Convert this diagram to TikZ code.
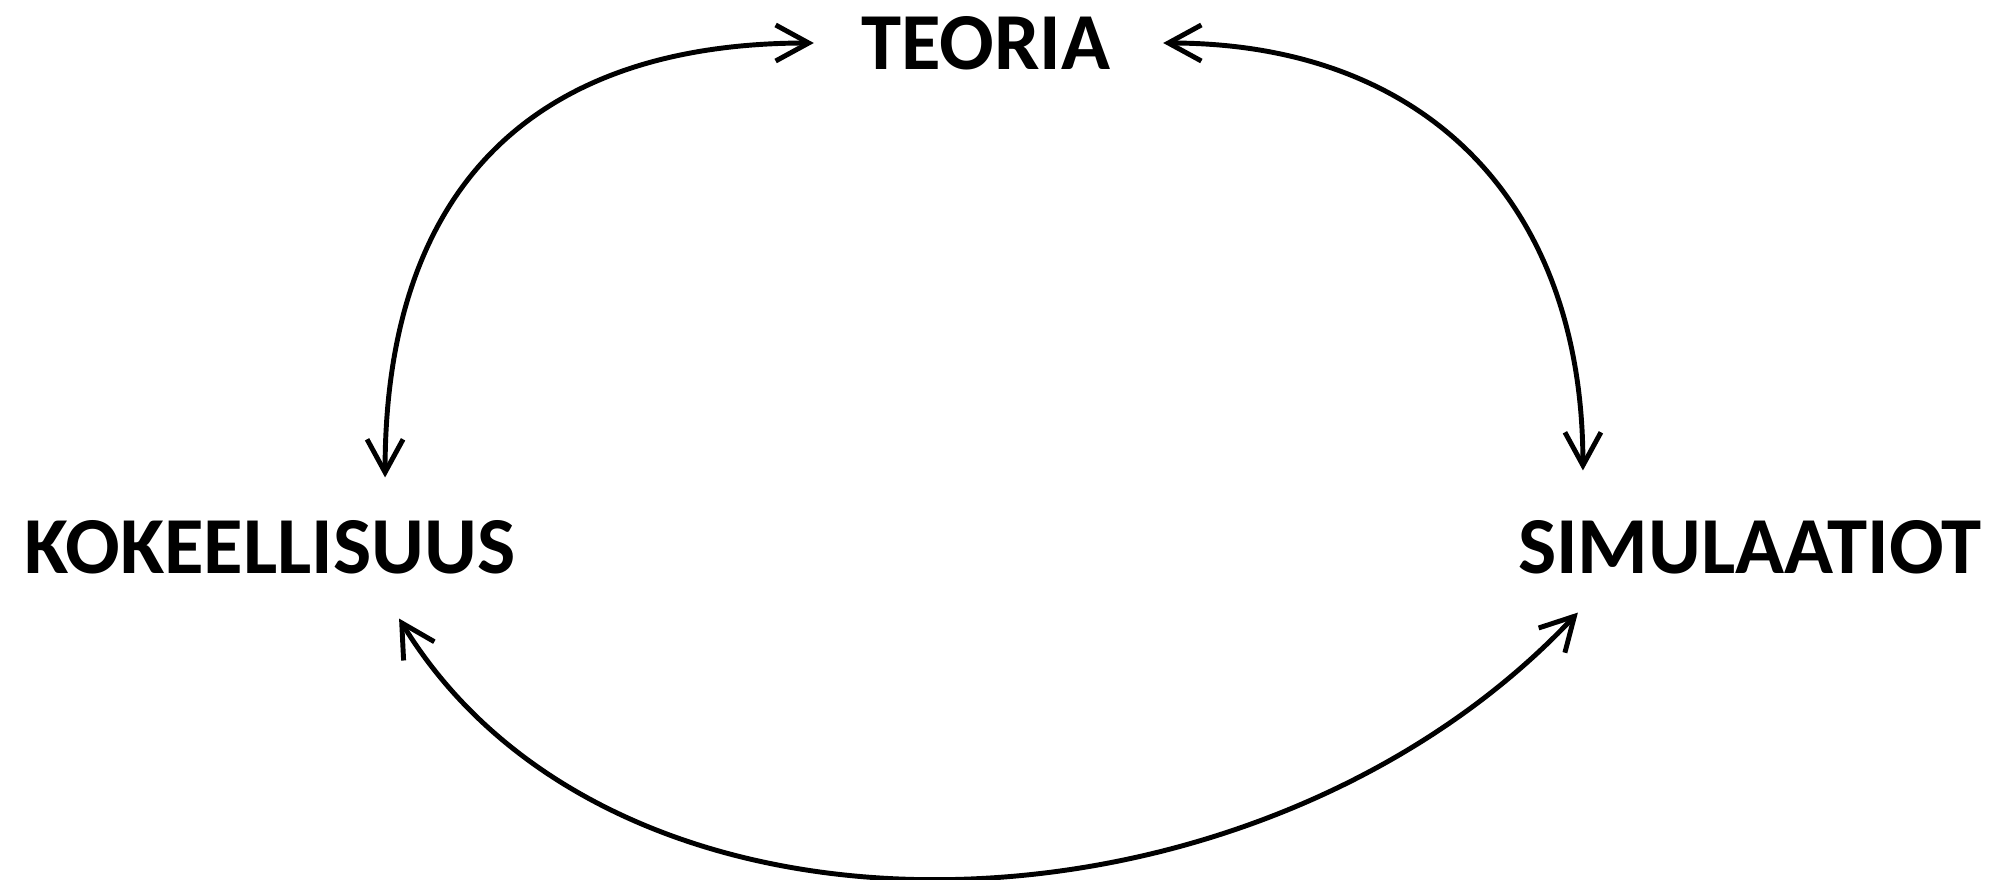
\documentclass[tikz,border=0pt]{standalone}
\usepackage{fontspec}
\setmainfont{Carlito}
\usepackage{tikz}
\usetikzlibrary{arrows.meta,calc}

\begin{document}
\begin{tikzpicture}[x=0.01cm,y=-0.01cm,>={Straight Barb[length=0.33cm,width=0.36cm]},
  word/.style={inner sep=0pt,font=\bfseries\fontsize{23}{28}\selectfont},
  link/.style={<->,line width=1.4pt}]
  \useasboundingbox (0,0) rectangle (1998,879);
  \node[word] (teo) at (986,43) {TEORIA};
  \node[word] (kok) at (270,547) {KOKEELLISUUS};
  \node[word] (sim) at (1750,547) {SIMULAATIOT};
  \draw[link] ([xshift=-0.47cm]teo.west) .. controls +(-285,0) and +(0,-285) .. ([xshift=1.15cm,yshift=0.42cm]kok.north);
  \draw[link] ([xshift=0.52cm]teo.east) .. controls +(265,0) and +(0,-265) .. ([xshift=-1.67cm,yshift=0.49cm]sim.north);
  \draw[link] ([xshift=1.29cm,yshift=-0.44cm]kok.south) .. controls +(220,360) and +(-320,340) .. ([xshift=-1.72cm,yshift=-0.38cm]sim.south);
\end{tikzpicture}
\end{document}
